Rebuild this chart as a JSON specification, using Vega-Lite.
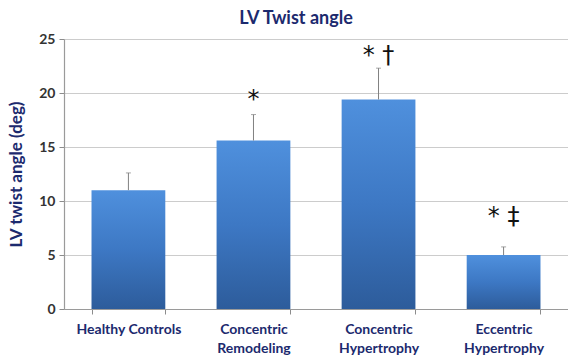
{
  "$schema": "https://vega.github.io/schema/vega-lite/v6.json",
  "width": 504,
  "height": 270,
  "autosize": "none",
  "padding": {"left": 64, "top": 39, "right": 0, "bottom": 48},
  "background": "white",
  "title": {
    "text": "LV Twist angle",
    "font": "Lato",
    "fontSize": 18,
    "fontWeight": "bold",
    "color": "#1c2a6e",
    "anchor": "middle",
    "frame": "group",
    "dx": -20,
    "dy": 23,
    "baseline": "bottom",
    "offset": 9
  },
  "datasets": {
    "bars": [
      {"group": "Healthy Controls", "value": 11.0, "upper": 12.6},
      {"group": "Concentric|Remodeling", "value": 15.6, "upper": 18.0},
      {"group": "Concentric|Hypertrophy", "value": 19.4, "upper": 22.3},
      {"group": "Eccentric|Hypertrophy", "value": 5.0, "upper": 5.75}
    ],
    "notes": [
      {"group": "Concentric|Remodeling", "mark": "*", "pos": 19.35},
      {"group": "Concentric|Hypertrophy", "mark": "* †", "pos": 23.45},
      {"group": "Eccentric|Hypertrophy", "mark": "* ‡", "pos": 8.55}
    ]
  },
  "encoding": {
    "x": {
      "field": "group",
      "type": "nominal",
      "sort": null,
      "scale": {
        "domain": ["Healthy Controls", "Concentric|Remodeling", "Concentric|Hypertrophy", "Eccentric|Hypertrophy"],
        "paddingInner": 0.41,
        "paddingOuter": 0.22
      },
      "axis": {
        "title": null,
        "labelAngle": 0,
        "labelExpr": "split(datum.label, '|')",
        "labelFont": "Lato",
        "labelFontSize": 14,
        "labelFontWeight": "bold",
        "labelColor": "#1c2a6e",
        "labelLineHeight": 19,
        "labelPadding": 8,
        "labelBaseline": "top",
        "tickBand": "extent",
        "tickSize": 5,
        "tickColor": "#8c8c8c",
        "domainColor": "#9a9a9a",
        "domainWidth": 1.2
      }
    }
  },
  "layer": [
    {
      "data": {"name": "bars"},
      "mark": {
        "type": "bar",
        "color": {
          "gradient": "linear",
          "x1": 0, "y1": 0, "x2": 0, "y2": 1,
          "stops": [
            {"offset": 0, "color": "#4f90dd"},
            {"offset": 0.5, "color": "#3d78c4"},
            {"offset": 1, "color": "#2d5c9b"}
          ]
        }
      },
      "encoding": {
        "y": {
          "field": "value",
          "type": "quantitative",
          "scale": {"domain": [0, 25], "nice": false},
          "axis": {
            "values": [0, 5, 10, 15, 20, 25],
            "title": "LV twist angle (deg)",
            "titleFont": "Lato",
            "titleFontSize": 17,
            "titleFontWeight": "bold",
            "titleColor": "#1c2a6e",
            "titlePadding": 13,
            "labelFont": "Lato",
            "labelFontSize": 14,
            "labelFontWeight": "bold",
            "labelColor": "#333333",
            "labelPadding": 4,
            "tickSize": 5,
            "tickColor": "#8c8c8c",
            "domainColor": "#9a9a9a",
            "domainWidth": 1.2,
            "grid": true,
            "gridColor": "#cccccc",
            "gridWidth": 1
          }
        }
      }
    },
    {
      "data": {"name": "bars"},
      "mark": {"type": "rule", "color": "#808080", "strokeWidth": 1},
      "encoding": {
        "y": {"field": "value", "type": "quantitative"},
        "y2": {"field": "upper"}
      }
    },
    {
      "data": {"name": "bars"},
      "mark": {"type": "tick", "orient": "horizontal", "color": "#808080", "size": 5, "thickness": 1},
      "encoding": {
        "y": {"field": "upper", "type": "quantitative"}
      }
    },
    {
      "data": {"name": "notes"},
      "mark": {"type": "text", "font": "DejaVu Sans", "fontSize": 24, "color": "#111111", "baseline": "middle", "align": "center"},
      "encoding": {
        "y": {"field": "pos", "type": "quantitative"},
        "text": {"field": "mark"}
      }
    }
  ]
}
